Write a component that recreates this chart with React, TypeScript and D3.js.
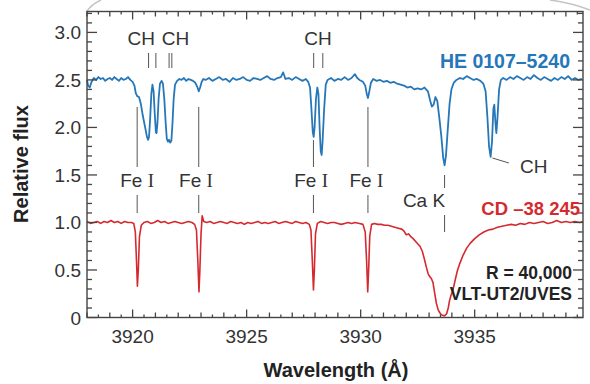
import React from "react";
import * as d3 from "d3";

// HE 0107-5240 spectrum (relative flux, offset +1.5)
const blueSpectrum: [number, number][] = [
  [3918.0, 2.5], [3918.05, 2.44], [3918.12, 2.42], [3918.2, 2.48], [3918.3, 2.52], [3918.4, 2.5], [3918.5, 2.53], [3918.6, 2.51], [3918.7, 2.52], [3918.8, 2.49], [3918.9, 2.51], [3919.0, 2.52], [3919.1, 2.5], [3919.2, 2.53], [3919.3, 2.51], [3919.4, 2.49], [3919.5, 2.52], [3919.6, 2.5], [3919.7, 2.51], [3919.8, 2.53], [3919.9, 2.5], [3920.0, 2.48],
  [3920.08, 2.44], [3920.14, 2.36], [3920.2, 2.33], [3920.28, 2.32], [3920.36, 2.25], [3920.45, 2.12], [3920.55, 2.0], [3920.63, 1.9], [3920.68, 1.87], [3920.72, 1.9], [3920.77, 2.1], [3920.82, 2.35], [3920.87, 2.45], [3920.92, 2.38], [3920.97, 2.15], [3921.02, 1.95], [3921.05, 1.94], [3921.09, 2.05], [3921.14, 2.3], [3921.2, 2.46], [3921.27, 2.49], [3921.33, 2.46], [3921.39, 2.3], [3921.45, 2.05], [3921.5, 1.88], [3921.55, 1.85], [3921.6, 1.87], [3921.65, 1.84], [3921.7, 1.86], [3921.75, 2.05], [3921.8, 2.3], [3921.86, 2.45], [3921.95, 2.49],
  [3922.05, 2.51], [3922.15, 2.5], [3922.25, 2.52], [3922.35, 2.49], [3922.45, 2.51], [3922.55, 2.5], [3922.65, 2.49], [3922.75, 2.47], [3922.83, 2.43], [3922.9, 2.38], [3922.96, 2.42], [3923.03, 2.48], [3923.1, 2.51],
  [3923.2, 2.5], [3923.35, 2.52], [3923.5, 2.49], [3923.65, 2.51], [3923.8, 2.53], [3923.95, 2.5], [3924.1, 2.51], [3924.25, 2.48], [3924.4, 2.52], [3924.55, 2.5], [3924.7, 2.51], [3924.85, 2.53], [3925.0, 2.5], [3925.15, 2.49], [3925.3, 2.52], [3925.45, 2.51], [3925.6, 2.5], [3925.75, 2.52], [3925.9, 2.54], [3926.05, 2.51], [3926.2, 2.5], [3926.35, 2.52], [3926.5, 2.53], [3926.6, 2.58], [3926.7, 2.51], [3926.85, 2.52], [3927.0, 2.5], [3927.15, 2.53], [3927.3, 2.51], [3927.45, 2.49], [3927.6, 2.51],
  [3927.7, 2.48], [3927.78, 2.42], [3927.84, 2.2], [3927.9, 1.95], [3927.94, 1.9], [3927.98, 2.0], [3928.04, 2.3], [3928.1, 2.42], [3928.15, 2.35], [3928.2, 2.0], [3928.25, 1.75], [3928.29, 1.71], [3928.33, 1.85], [3928.4, 2.2], [3928.47, 2.45], [3928.55, 2.5],
  [3928.7, 2.52], [3928.85, 2.49], [3929.0, 2.51], [3929.15, 2.5], [3929.3, 2.53], [3929.45, 2.5], [3929.6, 2.52], [3929.75, 2.56], [3929.85, 2.52], [3929.95, 2.5], [3930.1, 2.48], [3930.2, 2.44], [3930.27, 2.35], [3930.32, 2.31], [3930.38, 2.38], [3930.45, 2.47], [3930.55, 2.51],
  [3930.7, 2.49], [3930.85, 2.5], [3931.0, 2.48], [3931.15, 2.49], [3931.3, 2.47], [3931.45, 2.48], [3931.6, 2.46], [3931.75, 2.45], [3931.9, 2.44], [3932.05, 2.42], [3932.2, 2.43], [3932.35, 2.4], [3932.5, 2.41], [3932.65, 2.4], [3932.8, 2.42], [3932.95, 2.38], [3933.05, 2.28], [3933.12, 2.22], [3933.2, 2.24], [3933.28, 2.32], [3933.36, 2.28], [3933.45, 2.1], [3933.54, 1.9], [3933.62, 1.68], [3933.68, 1.6], [3933.74, 1.7], [3933.82, 1.98], [3933.9, 2.25], [3933.98, 2.4], [3934.08, 2.47], [3934.2, 2.5],
  [3934.35, 2.52], [3934.5, 2.51], [3934.65, 2.54], [3934.8, 2.52], [3934.95, 2.5], [3935.1, 2.51], [3935.25, 2.49], [3935.38, 2.46], [3935.48, 2.38], [3935.56, 2.1], [3935.63, 1.8], [3935.7, 1.69], [3935.76, 1.85], [3935.82, 2.2], [3935.86, 2.24], [3935.91, 2.05], [3935.95, 1.94], [3936.0, 2.1], [3936.07, 2.4], [3936.15, 2.5], [3936.25, 2.52],
  [3936.4, 2.5], [3936.55, 2.53], [3936.7, 2.51], [3936.85, 2.54], [3937.0, 2.52], [3937.15, 2.5], [3937.3, 2.53], [3937.45, 2.51], [3937.6, 2.55], [3937.75, 2.52], [3937.9, 2.5], [3938.05, 2.53], [3938.2, 2.51], [3938.35, 2.49], [3938.5, 2.52], [3938.65, 2.5], [3938.8, 2.53], [3938.95, 2.51], [3939.1, 2.54], [3939.25, 2.5], [3939.4, 2.52], [3939.55, 2.5], [3939.7, 2.51],
];

// CD -38 245 spectrum (relative flux)
const redSpectrum: [number, number][] = [
  [3918.0, 1.01], [3918.15, 0.99], [3918.3, 1.0], [3918.45, 1.01], [3918.6, 0.99], [3918.75, 1.01], [3918.9, 1.0], [3919.05, 1.02], [3919.2, 1.0], [3919.35, 1.01], [3919.5, 0.99], [3919.65, 1.01], [3919.8, 1.0], [3919.95, 1.0],
  [3920.05, 0.99], [3920.12, 0.9], [3920.17, 0.6], [3920.21, 0.33], [3920.25, 0.5], [3920.3, 0.85], [3920.38, 0.97],
  [3920.5, 1.0], [3920.65, 1.01], [3920.8, 0.99], [3920.95, 1.0], [3921.1, 1.02], [3921.25, 1.0], [3921.4, 1.01], [3921.55, 0.99], [3921.7, 1.0], [3921.85, 1.01], [3922.0, 1.0], [3922.15, 0.99], [3922.3, 1.0], [3922.45, 1.01], [3922.6, 1.0], [3922.72, 0.98],
  [3922.8, 0.92], [3922.86, 0.6], [3922.91, 0.27], [3922.95, 0.5], [3923.0, 0.88], [3923.05, 1.07], [3923.12, 1.01],
  [3923.25, 1.0], [3923.4, 1.01], [3923.55, 0.99], [3923.7, 1.0], [3923.85, 1.01], [3924.0, 1.0], [3924.15, 0.99], [3924.3, 1.01], [3924.45, 1.0], [3924.6, 0.99], [3924.75, 1.0], [3924.9, 0.98], [3925.05, 1.0], [3925.2, 0.99], [3925.35, 1.0], [3925.5, 1.01], [3925.65, 0.99], [3925.8, 1.0], [3925.95, 0.99], [3926.1, 1.0], [3926.25, 1.01], [3926.4, 0.99], [3926.55, 1.0], [3926.7, 1.01], [3926.85, 1.0], [3927.0, 0.99], [3927.15, 1.01], [3927.3, 1.0], [3927.45, 0.99], [3927.6, 1.0], [3927.75, 0.98],
  [3927.82, 0.92], [3927.88, 0.6], [3927.93, 0.29], [3927.97, 0.5], [3928.02, 0.88], [3928.1, 0.99],
  [3928.25, 1.01], [3928.4, 1.0], [3928.55, 0.99], [3928.7, 1.0], [3928.85, 1.0], [3929.0, 0.99], [3929.15, 0.98], [3929.3, 0.99], [3929.45, 1.0], [3929.6, 0.99], [3929.75, 1.0], [3929.95, 0.99], [3930.1, 0.98],
  [3930.2, 0.9], [3930.26, 0.6], [3930.31, 0.27], [3930.35, 0.5], [3930.4, 0.86], [3930.48, 0.98],
  [3930.6, 0.99], [3930.75, 0.98], [3930.9, 0.98], [3931.05, 0.97], [3931.2, 0.97], [3931.35, 0.96], [3931.5, 0.95], [3931.65, 0.94], [3931.8, 0.93], [3931.9, 0.91], [3932.0, 0.87], [3932.1, 0.88], [3932.2, 0.85], [3932.3, 0.83], [3932.45, 0.79], [3932.6, 0.75], [3932.7, 0.7], [3932.8, 0.61], [3932.88, 0.53], [3932.96, 0.46], [3933.03, 0.43], [3933.1, 0.41], [3933.17, 0.37], [3933.25, 0.25], [3933.32, 0.15], [3933.4, 0.08], [3933.47, 0.05], [3933.54, 0.03], [3933.62, 0.02], [3933.7, 0.02], [3933.77, 0.04], [3933.84, 0.1], [3933.9, 0.18], [3933.97, 0.24], [3934.05, 0.29], [3934.15, 0.4], [3934.25, 0.5], [3934.35, 0.57], [3934.5, 0.66], [3934.65, 0.73], [3934.8, 0.78], [3935.0, 0.83], [3935.2, 0.87], [3935.4, 0.9], [3935.6, 0.92], [3935.8, 0.93], [3936.0, 0.95], [3936.2, 0.96], [3936.4, 0.97],
  [3936.6, 0.98], [3936.8, 0.97], [3937.0, 0.99], [3937.2, 0.98], [3937.4, 1.0], [3937.6, 0.99], [3937.8, 1.0], [3938.0, 1.01], [3938.2, 0.99], [3938.4, 1.0], [3938.6, 1.02], [3938.8, 1.0], [3939.0, 1.01], [3939.2, 1.0], [3939.4, 1.01], [3939.6, 1.0], [3939.75, 1.01],
];

const xTickValues = [3920, 3925, 3930, 3935];
const yTickValues = [0, 0.5, 1.0, 1.5, 2.0, 2.5, 3.0];
const yTickLabels = ["0", "0.5", "1.0", "1.5", "2.0", "2.5", "3.0"];

const chLines = [3920.7, 3921.02, 3921.6, 3921.72, 3927.94, 3928.34];
const chLabels = [3920.38, 3921.88, 3928.13];
const feLines = [3920.2, 3922.9, 3927.93, 3930.32];
const feLabelPos = [3920.2, 3922.78, 3927.83, 3930.25];
const caKLine = 3933.68;

const W = 590, H = 384;
const left = 87, right = 583, top = 11.5, bottom = 317.5;

export default function App() {
  const x = d3.scaleLinear().domain([3918, 3939.75]).range([left, right]);
  const y = d3.scaleLinear().domain([0, 3.22]).range([bottom, top]);
  const line = d3.line<[number, number]>().x(d => x(d[0])).y(d => y(d[1])).curve(d3.curveLinear);

  const xMinor = d3.range(3918, 3939.76, 0.5);
  const yMinor = d3.range(0, 3.22, 0.1);
  const tickColor = "#444";
  const txt = "#333";
  const font = "'Liberation Sans', Arial, Helvetica, sans-serif";

  const xTickLen = (v: number) => (Math.abs(v % 5) < 1e-6 ? 8 : Math.abs(v % 1) < 1e-6 ? 5 : 3);
  const yTickLen = (v: number) => (Math.abs(Math.round(v * 10) % 5) === 0 ? 10 : 5);

  const feLabel = (lam: number, key: string) => (
    <text key={key} x={x(lam)} y={187} textAnchor="middle" fontSize={19} fill={txt} fontFamily={font}>
      Fe <tspan fontFamily="'Liberation Serif', 'Times New Roman', serif">I</tspan>
    </text>
  );

  return (
    <svg width={W} height={H} style={{ position: "absolute", left: 0, top: 0 }}>
      <rect width={W} height={H} fill="#fff" />
      {/* page decoration arcs */}
      <path d="M 87 11 Q 92 4 101 0" stroke="#c4c4c4" strokeWidth={1.5} fill="none" />
      <path d="M 550 0 Q 572 3 590 10" stroke="#c4c4c4" strokeWidth={1.5} fill="none" />

      {/* line markers */}
      {chLines.map((l, i) => (
        <line key={"ch" + i} x1={x(l)} x2={x(l)} y1={53} y2={68} stroke="#555" strokeWidth={1} />
      ))}
      {feLines.map((l, i) => (
        <g key={"fe" + i}>
          <line x1={x(l)} x2={x(l)} y1={i === 2 ? 140 : 107} y2={167} stroke="#555" strokeWidth={1} />
          <line x1={x(l)} x2={x(l)} y1={195} y2={213} stroke="#555" strokeWidth={1} />
        </g>
      ))}
      <line x1={x(caKLine)} x2={x(caKLine)} y1={175} y2={188} stroke="#555" strokeWidth={1} />
      <line x1={x(caKLine)} x2={x(caKLine)} y1={215} y2={232} stroke="#555" strokeWidth={1} />
      <line x1={x(3935.78)} y1={158} x2={x(3936.5)} y2={163} stroke="#555" strokeWidth={1} />

      {/* spectra */}
      <path d={line(blueSpectrum) || ""} fill="none" stroke="#2677b8" strokeWidth={1.8} strokeLinejoin="round" />
      <path d={line(redSpectrum) || ""} fill="none" stroke="#d42a2f" strokeWidth={1.6} strokeLinejoin="round" />

      {/* frame */}
      <rect x={left} y={top} width={right - left} height={bottom - top} fill="none" stroke={tickColor} strokeWidth={1.4} />

      {/* x ticks */}
      {xMinor.map((v, i) => (
        <g key={"xt" + i}>
          <line x1={x(v)} x2={x(v)} y1={bottom} y2={bottom - xTickLen(v)} stroke={tickColor} strokeWidth={1.3} />
          <line x1={x(v)} x2={x(v)} y1={top} y2={top + xTickLen(v)} stroke={tickColor} strokeWidth={1.3} />
        </g>
      ))}
      {/* y ticks */}
      {yMinor.map((v, i) => (
        <g key={"yt" + i}>
          <line x1={left} x2={left + yTickLen(v)} y1={y(v)} y2={y(v)} stroke={tickColor} strokeWidth={1.3} />
          <line x1={right} x2={right - yTickLen(v)} y1={y(v)} y2={y(v)} stroke={tickColor} strokeWidth={1.3} />
        </g>
      ))}

      {/* tick labels */}
      {xTickValues.map((v, i) => (
        <text key={"xl" + i} x={x(v)} y={343} textAnchor="middle" fontSize={19} fill={txt} fontFamily={font}>
          {v}
        </text>
      ))}
      {yTickValues.map((v, i) => (
        <text key={"yl" + i} x={81} y={y(v) + 7} textAnchor="end" fontSize={19} fill={txt} fontFamily={font}>
          {yTickLabels[i]}
        </text>
      ))}

      {/* axis titles */}
      <text x={336} y={377} textAnchor="middle" fontSize={20} fontWeight="bold" fill="#222" fontFamily={font}>
        Wavelength (Å)
      </text>
      <text transform="translate(28,164) rotate(-90)" textAnchor="middle" fontSize={20} fontWeight="bold" fill="#222" fontFamily={font}>
        Relative flux
      </text>

      {/* annotations */}
      {chLabels.map((l, i) => (
        <text key={"chl" + i} x={x(l)} y={45} textAnchor="middle" fontSize={19} fill={txt} fontFamily={font}>
          CH
        </text>
      ))}
      <text x={520} y={173} fontSize={19} fill={txt} fontFamily={font}>CH</text>
      {feLabelPos.map((l, i) => feLabel(l, "fel" + i))}
      <text x={424} y={207} textAnchor="middle" fontSize={19} fill={txt} fontFamily={font}>Ca K</text>

      <text x={570} y={68} textAnchor="end" fontSize={19.5} fontWeight="bold" fill="#2677b8" fontFamily={font}>
        HE 0107–5240
      </text>
      <text x={580} y={215} textAnchor="end" fontSize={18.5} fontWeight="bold" fill="#d42a2f" fontFamily={font}>
        CD –38 245
      </text>
      <text x={572} y={279} textAnchor="end" fontSize={17.5} fontWeight="bold" fill="#222" fontFamily={font}>
        R = 40,000
      </text>
      <text x={572} y={300} textAnchor="end" fontSize={17.5} fontWeight="bold" fill="#222" fontFamily={font}>
        VLT-UT2/UVES
      </text>
    </svg>
  );
}
